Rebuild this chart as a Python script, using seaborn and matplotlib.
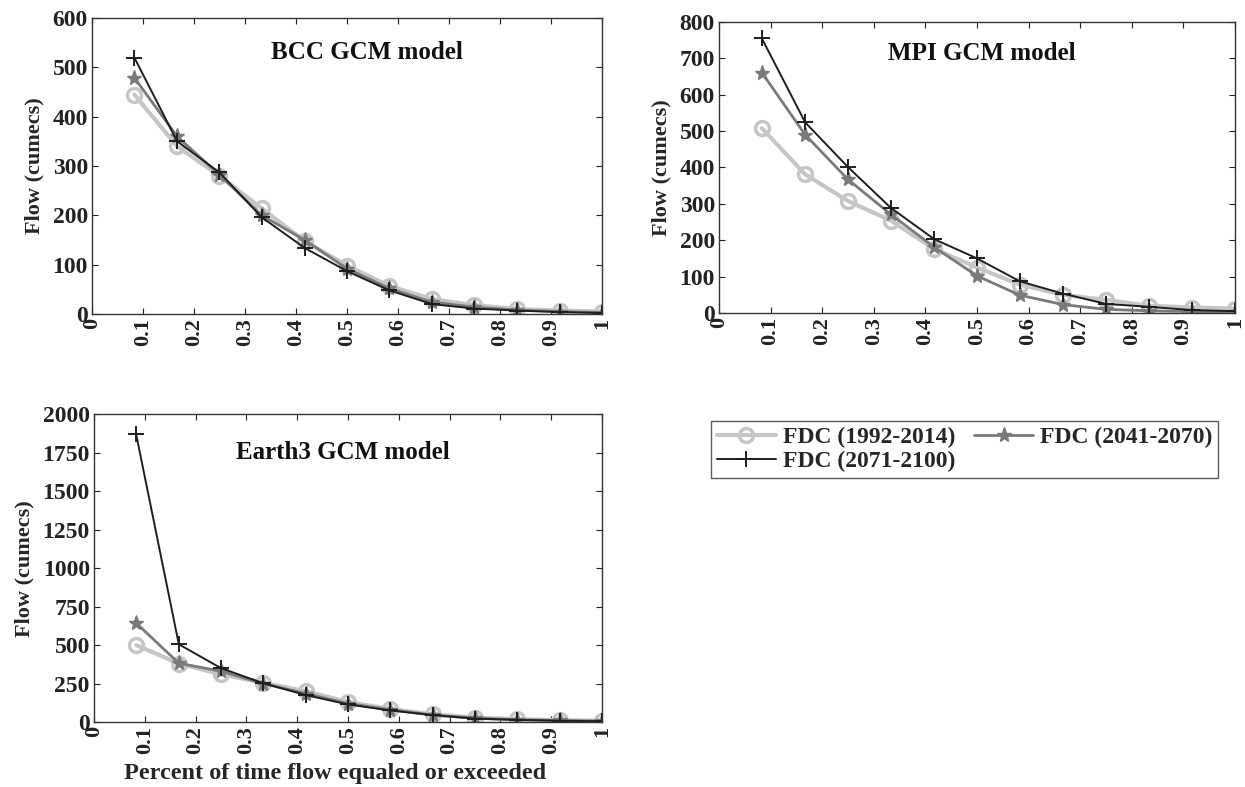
import numpy as np
import pandas as pd
import matplotlib
matplotlib.use("Agg")
import matplotlib.pyplot as plt
import seaborn as sns

sns.set_style("ticks")
plt.rcParams['font.family'] = ['Liberation Serif', 'DejaVu Serif']
plt.rcParams['font.weight'] = 'bold'
plt.rcParams['axes.labelweight'] = 'bold'

# exceedance fraction (12 monthly ranks)
exceedance = [0.083, 0.167, 0.25, 0.333, 0.417, 0.5, 0.583, 0.667, 0.75, 0.833, 0.917, 1.0]
periods = ["FDC (1992-2014)", "FDC (2041-2070)", "FDC (2071-2100)"]

bcc_hist = [445, 340, 280, 214, 148, 98, 57, 30, 18, 10, 7, 5]
bcc_mid = [479, 360, 282, 200, 150, 92, 52, 24, 14, 8, 5, 3]
bcc_far = [520, 350, 287, 196, 134, 87, 48, 20, 11, 7, 4, 2]

mpi_hist = [508, 381, 308, 254, 176, 125, 78, 50, 36, 20, 15, 12]
mpi_mid = [661, 490, 367, 271, 181, 102, 49, 23, 10, 6, 4, 3]
mpi_far = [755, 524, 401, 289, 203, 150, 87, 53, 25, 17, 8, 5]

earth_hist = [500, 380, 310, 255, 200, 130, 85, 50, 28, 18, 12, 8]
earth_mid = [643, 382, 330, 250, 185, 120, 80, 45, 25, 15, 10, 6]
earth_far = [1870, 505, 350, 252, 175, 114, 75, 45, 22, 14, 8, 5]

styles = {
    periods[0]: dict(color="#c6c6c6", linewidth=3.0, marker="o", markersize=10,
                     markerfacecolor="none", markeredgecolor="#c6c6c6", markeredgewidth=2.5),
    periods[1]: dict(color="#7a7a7a", linewidth=2.0, marker="*", markersize=11,
                     markerfacecolor="#7a7a7a", markeredgecolor="#7a7a7a", markeredgewidth=1),
    periods[2]: dict(color="#1e1e1e", linewidth=1.4, marker="+", markersize=12,
                     markeredgecolor="#1e1e1e", markeredgewidth=1.4),
}

panels = [
    ("BCC GCM model", [bcc_hist, bcc_mid, bcc_far], np.arange(0, 601, 100),
     [0.0739, 0.601, 0.4096, 0.376], (0.54, 0.885)),
    ("MPI GCM model", [mpi_hist, mpi_mid, mpi_far], np.arange(0, 801, 100),
     [0.5775, 0.6023, 0.4145, 0.3698], (0.51, 0.89)),
    ("Earth3 GCM model", [earth_hist, earth_mid, earth_far], np.arange(0, 2001, 250),
     [0.0755, 0.0826, 0.408, 0.391], (0.49, 0.877)),
]

fig = plt.figure(figsize=(12.45, 7.87), dpi=100)

handles = None
for title, series, yticks, pos, tpos in panels:
    ax = fig.add_axes(pos)
    for name, vals in zip(periods, series):
        df = pd.DataFrame({"x": exceedance, "y": vals})
        sns.lineplot(data=df, x="x", y="y", ax=ax, label=name, **styles[name])
    ax.set_xlim(0, 1)
    ax.set_ylim(yticks[0], yticks[-1])
    ax.set_xticks(np.arange(0, 1.01, 0.1))
    ax.set_xticklabels(["0", "0.1", "0.2", "0.3", "0.4", "0.5", "0.6", "0.7", "0.8", "0.9", "1"],
                       rotation=90)
    ax.set_yticks(yticks)
    ax.tick_params(direction="in", top=True, right=True, length=4, width=0.8,
                   labelsize=17, colors="#222222", pad=3)
    ax.tick_params(axis="x", labelsize=16)
    for lab in ax.get_xticklabels() + ax.get_yticklabels():
        lab.set_fontweight("bold")
    for sp in ax.spines.values():
        sp.set_color("#333333")
        sp.set_linewidth(1.0)
    ax.set_xlabel("")
    ax.set_ylabel("Flow (cumecs)", fontsize=16, labelpad=6)
    ax.text(tpos[0], tpos[1], title, transform=ax.transAxes, ha="center", va="center",
            fontsize=18, fontweight="bold", color="#111111")
    handles, labels = ax.get_legend_handles_labels()
    ax.get_legend().remove()
    if title.startswith("Earth3"):
        ax.set_xlabel("Percent of time flow equaled or exceeded", fontsize=17.5)
        ax.xaxis.set_label_coords(0.475, -0.132, transform=ax.transAxes)
        ax.xaxis.label.set_va("top")

# row-wise order for 2 columns
order = [0, 2, 1]
leg = fig.legend([handles[i] for i in order], [labels[i] for i in order], ncol=2,
                 loc="upper left", bbox_to_anchor=(0.5614, 0.48),
                 frameon=True, fancybox=False, edgecolor="#333333",
                 handlelength=2.5, handletextpad=0.3, columnspacing=0.8,
                 labelspacing=0.1, borderpad=0.25, prop={"weight": "bold", "size": 17})
leg.get_frame().set_linewidth(1.0)

plt.savefig("out.png", dpi=100)
plt.close()
